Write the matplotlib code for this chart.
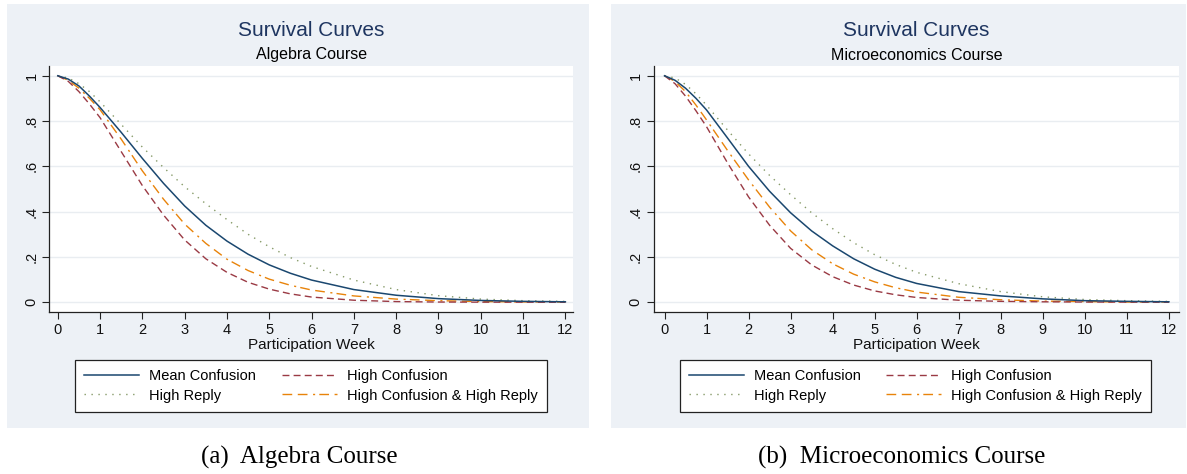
import matplotlib
matplotlib.use("Agg")
import matplotlib.pyplot as plt
from matplotlib.patches import Rectangle

plt.rcParams['font.family'] = ['Liberation Sans', 'DejaVu Sans']

# ---------------- data ----------------
weeks = [0, 0.25, 0.5, 0.75, 1, 1.5, 2, 2.5, 3, 3.5, 4, 4.5, 5, 5.5, 6, 7, 8, 9, 10, 11, 12]

series_labels = ["Mean Confusion", "High Confusion", "High Reply", "High Confusion & High Reply"]

# Algebra course
alg_mean = [1.0, 0.985, 0.955, 0.91, 0.86, 0.75, 0.635, 0.525, 0.425, 0.34, 0.27, 0.212, 0.165, 0.128, 0.098, 0.056, 0.031, 0.016, 0.008, 0.004, 0.002]
alg_high_conf = [1.0, 0.975, 0.93, 0.875, 0.815, 0.665, 0.515, 0.385, 0.275, 0.192, 0.132, 0.088, 0.058, 0.037, 0.023, 0.009, 0.003, 0.001, 0.0005, 0.0002, 0.0]
alg_high_reply = [1.0, 0.99, 0.965, 0.93, 0.885, 0.785, 0.685, 0.595, 0.51, 0.435, 0.365, 0.30, 0.245, 0.197, 0.158, 0.098, 0.056, 0.029, 0.014, 0.007, 0.004]
alg_both = [1.0, 0.98, 0.945, 0.90, 0.85, 0.72, 0.58, 0.455, 0.345, 0.26, 0.19, 0.14, 0.102, 0.075, 0.054, 0.028, 0.014, 0.007, 0.003, 0.0015, 0.001]

# Microeconomics course
mic_mean = [1.0, 0.98, 0.945, 0.90, 0.849, 0.725, 0.60, 0.49, 0.395, 0.315, 0.249, 0.192, 0.146, 0.11, 0.083, 0.047, 0.028, 0.015, 0.007, 0.004, 0.002]
mic_high_conf = [1.0, 0.965, 0.91, 0.845, 0.775, 0.615, 0.465, 0.34, 0.238, 0.165, 0.113, 0.076, 0.05, 0.033, 0.021, 0.009, 0.004, 0.002, 0.001, 0.0005, 0.0]
mic_high_reply = [1.0, 0.99, 0.962, 0.92, 0.87, 0.76, 0.655, 0.56, 0.475, 0.395, 0.325, 0.263, 0.21, 0.167, 0.132, 0.082, 0.047, 0.024, 0.012, 0.007, 0.004]
mic_both = [1.0, 0.975, 0.93, 0.87, 0.805, 0.67, 0.54, 0.42, 0.315, 0.232, 0.17, 0.124, 0.09, 0.064, 0.045, 0.022, 0.011, 0.005, 0.003, 0.001, 0.001]

x_ticks = list(range(0, 13))
y_ticks = [0, 0.2, 0.4, 0.6, 0.8, 1.0]
y_ticklabels = ["0", ".2", ".4", ".6", ".8", "1"]

main_title = "Survival Curves"
subtitles = ["Algebra Course", "Microeconomics Course"]
captions = ["(a)  Algebra Course", "(b)  Microeconomics Course"]
x_label = "Participation Week"

# ---------------- figure ----------------
W, H = 1187, 474
fig = plt.figure(figsize=(W / 100, H / 100), dpi=100)
fig.patch.set_facecolor("white")

BG = "#EDF1F6"
colors = ["#1a476f", "#9a3a44", "#869a68", "#e8830a"]
styles = ["-", (0, (5, 3)), (0, (1, 4)), (0, (7, 4, 7, 4, 1.5, 3))]
widths = [1.1, 1.0, 1.0, 1.0]


def px_rect(x0, y0, x1, y1):
    return [x0 / W, 1 - y1 / H, (x1 - x0) / W, (y1 - y0) / H]


panels = [
    dict(bg=(7, 4, 589, 428), ax=(49.3, 66, 573, 312), xlim=(-0.20, 12.18),
         leg=(75.3, 360, 547, 407.7), cap_x=299,
         data=[alg_mean, alg_high_conf, alg_high_reply, alg_both]),
    dict(bg=(611, 4, 1186, 428), ax=(653.7, 66, 1179, 312), xlim=(-0.257, 12.24),
         leg=(680, 360, 1151, 407.7), cap_x=902,
         data=[mic_mean, mic_high_conf, mic_high_reply, mic_both]),
]

for i, p in enumerate(panels):
    bx0, by0, bx1, by1 = p["bg"]
    bg = Rectangle((bx0 / W, 1 - by1 / H), (bx1 - bx0) / W, (by1 - by0) / H,
                   transform=fig.transFigure, facecolor=BG, edgecolor="none", zorder=-10)
    fig.add_artist(bg)
    ax = fig.add_axes(px_rect(*p["ax"]))
    ax.set_zorder(2)
    ax.set_facecolor("white")
    handles = []
    for j, ys in enumerate(p["data"]):
        ln, = ax.plot(weeks, ys, color=colors[j], linestyle=styles[j], lw=widths[j],
                      label=series_labels[j], zorder=3 + (3 - j) * 0.1)
        handles.append(ln)
    ax.set_xlim(*p["xlim"])
    ax.set_ylim(-0.043, 1.043)
    ax.set_xticks(x_ticks)
    ax.set_yticks(y_ticks)
    ax.set_yticklabels(y_ticklabels)
    for yv in y_ticks:
        ax.axhline(yv, color="#E9EDF1", lw=1.0, zorder=1)
    for s in ["top", "right"]:
        ax.spines[s].set_visible(False)
    for s in ["left", "bottom"]:
        ax.spines[s].set_color("#222222")
        ax.spines[s].set_linewidth(0.9)
    ax.tick_params(axis="both", direction="out", length=4.8, width=0.8, color="#222222",
                   labelsize=10.5, labelcolor="#111111", pad=3)
    ax.tick_params(axis="y", labelrotation=90)
    for lab in ax.get_yticklabels():
        lab.set_va("center")

    axx0, axy0, axx1, axy1 = p["ax"]
    cx = (axx0 + axx1) / 2 / W
    fig.text(cx, 1 - 31 / H, main_title, ha="center", va="center", fontsize=15, color="#1E3560")
    fig.text(cx, 1 - 55 / H, subtitles[i], ha="center", va="center", fontsize=11.5, color="black")
    fig.text(cx, 1 - 345 / H, x_label, ha="center", va="center", fontsize=11, color="#111111")

    lx0, ly0, lx1, ly1 = p["leg"]
    order = [0, 2, 1, 3]
    leg = fig.legend([handles[k] for k in order], [series_labels[k] for k in order],
                     ncol=2, loc="upper left", mode="expand",
                     bbox_to_anchor=(lx0 / W, 1 - ly1 / H, (lx1 - lx0) / W, (ly1 - ly0) / H),
                     bbox_transform=fig.transFigure, fontsize=10.5, frameon=True, fancybox=False,
                     edgecolor="#222222", facecolor="white", framealpha=1.0,
                     handlelength=3.75, handletextpad=0.7, borderpad=0.62, labelspacing=0.38,
                     borderaxespad=0.0, columnspacing=1.0)
    leg.get_frame().set_linewidth(0.9)

    fig.text(p["cap_x"] / W, 1 - 457 / H, captions[i], ha="center", va="center",
             fontsize=18, family=["Liberation Serif", "DejaVu Serif"], color="black")

fig.savefig("out.png", dpi=100, facecolor="white")
